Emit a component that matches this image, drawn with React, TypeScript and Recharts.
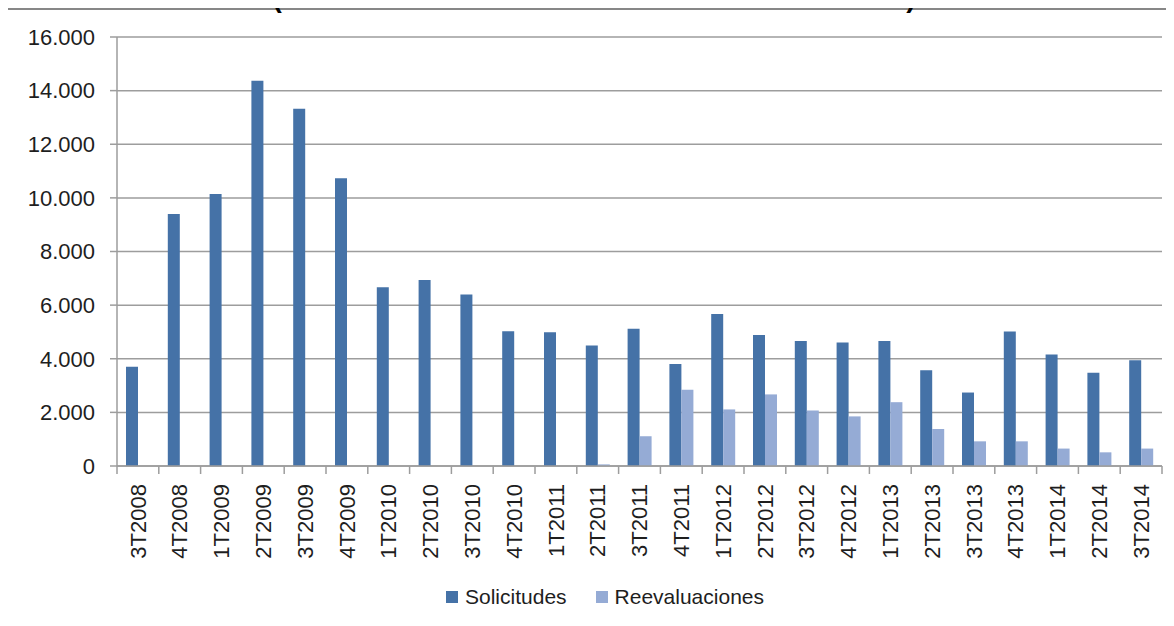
import { BarChart, Bar, XAxis, YAxis, CartesianGrid, Legend } from 'recharts'

const quarters = [
  '3T2008', '4T2008', '1T2009', '2T2009', '3T2009', '4T2009', '1T2010', '2T2010', '3T2010',
  '4T2010', '1T2011', '2T2011', '3T2011', '4T2011', '1T2012', '2T2012', '3T2012', '4T2012',
  '1T2013', '2T2013', '3T2013', '4T2013', '1T2014', '2T2014', '3T2014',
]
const solicitudes = [
  3700, 9400, 10140, 14370, 13320, 10730, 6670, 6940, 6400,
  5030, 4990, 4490, 5120, 3800, 5670, 4890, 4660, 4610,
  4660, 3570, 2740, 5020, 4160, 3480, 3940,
]
const reevaluaciones = [
  0, 0, 0, 0, 0, 0, 0, 0, 0,
  0, 0, 60, 1110, 2840, 2110, 2670, 2070, 1850,
  2380, 1380, 920, 920, 650, 510, 650,
]
const yTicks = [0, 2000, 4000, 6000, 8000, 10000, 12000, 14000, 16000]

const SOL = '#4572a7'
const REEV = '#95abd5'
const GRID = '#9d9d9d'
const TEXT = '#1e1e1e'
const FONT = '"Liberation Sans", Arial, sans-serif'

const CHART_W = 1158
const CHART_H = 608
const Y_W = 109
const RIGHT = 4
const BAND = (CHART_W - Y_W - RIGHT) / quarters.length

const data = quarters.map((q, i) => ({ q, sol: solicitudes[i], reev: reevaluaciones[i] }))

function fmt(v: number) {
  return String(v).replace(/\B(?=(\d{3})+(?!\d))/g, '.')
}

function XTick(props: any) {
  const { x, y, payload, index } = props
  const left = x - BAND / 2
  return (
    <g>
      <line x1={left} y1={y} x2={left} y2={y + 8} stroke={GRID} strokeWidth={1.5} />
      {index === quarters.length - 1 && (
        <line x1={x + BAND / 2} y1={y} x2={x + BAND / 2} y2={y + 8} stroke={GRID} strokeWidth={1.5} />
      )}
      <text
        transform={`translate(${x},${y + 18}) rotate(-90)`}
        textAnchor="end"
        dy="0.35em"
        fontSize={22}
        fill={TEXT}
        fontFamily={FONT}
      >
        {payload.value}
      </text>
    </g>
  )
}

function LegendBox() {
  const item = (color: string, label: string) => (
    <div style={{ display: 'flex', alignItems: 'center', marginRight: 29 }}>
      <span style={{ width: 12, height: 12, background: color, marginRight: 7, display: 'inline-block' }} />
      <span style={{ fontSize: 21, color: TEXT, fontFamily: FONT, lineHeight: '24px' }}>{label}</span>
    </div>
  )
  return (
    <div style={{ display: 'flex', height: 24, alignItems: 'center' }}>
      {item(SOL, 'Solicitudes')}
      {item(REEV, 'Reevaluaciones')}
    </div>
  )
}

export default function App() {
  return (
    <div
      style={{
        position: 'relative',
        marginLeft: -2,
        width: 1168,
        height: 610,
        borderLeft: '2px solid #878787',
        borderTop: '2px solid #878787',
        boxSizing: 'border-box',
      }}
    >
      {/* title sits mostly above the visible page, as in the cropped original */}
      <div
        style={{
          position: 'absolute',
          top: -25,
          left: 0,
          width: 1175,
          height: 25,
          lineHeight: '25px',
          textAlign: 'center',
          fontFamily: FONT,
          fontWeight: 'bold',
          fontSize: 28,
          letterSpacing: 3,
          color: '#000',
          whiteSpace: 'nowrap',
        }}
      >
        (3er trimestre 2008 - 3er trimestre 2014)
      </div>
      <BarChart
        width={CHART_W}
        height={CHART_H}
        data={data}
        margin={{ top: 27, right: RIGHT, left: 0, bottom: 0 }}
        barGap={0}
        barSize={12}
      >
        <CartesianGrid vertical={false} stroke={GRID} strokeWidth={1.5} />
        <XAxis
          dataKey="q"
          interval={0}
          height={128}
          tickLine={false}
          tickSize={0}
          tickMargin={0}
          axisLine={{ stroke: GRID, strokeWidth: 1.5 }}
          tick={<XTick />}
        />
        <YAxis
          width={Y_W}
          domain={[0, 16000]}
          ticks={yTicks}
          interval={0}
          tickFormatter={fmt}
          tickSize={7}
          tickMargin={15}
          tickLine={{ stroke: GRID, strokeWidth: 1.5 }}
          axisLine={{ stroke: GRID, strokeWidth: 1.5 }}
          tick={{ fill: TEXT, fontSize: 22, fontFamily: FONT }}
        />
        <Legend
          content={<LegendBox />}
          wrapperStyle={{ top: 575, left: 438, width: 'auto', height: 24 }}
        />
        <Bar dataKey="sol" name="Solicitudes" fill={SOL} isAnimationActive={false} />
        <Bar dataKey="reev" name="Reevaluaciones" fill={REEV} isAnimationActive={false} />
      </BarChart>
    </div>
  )
}
